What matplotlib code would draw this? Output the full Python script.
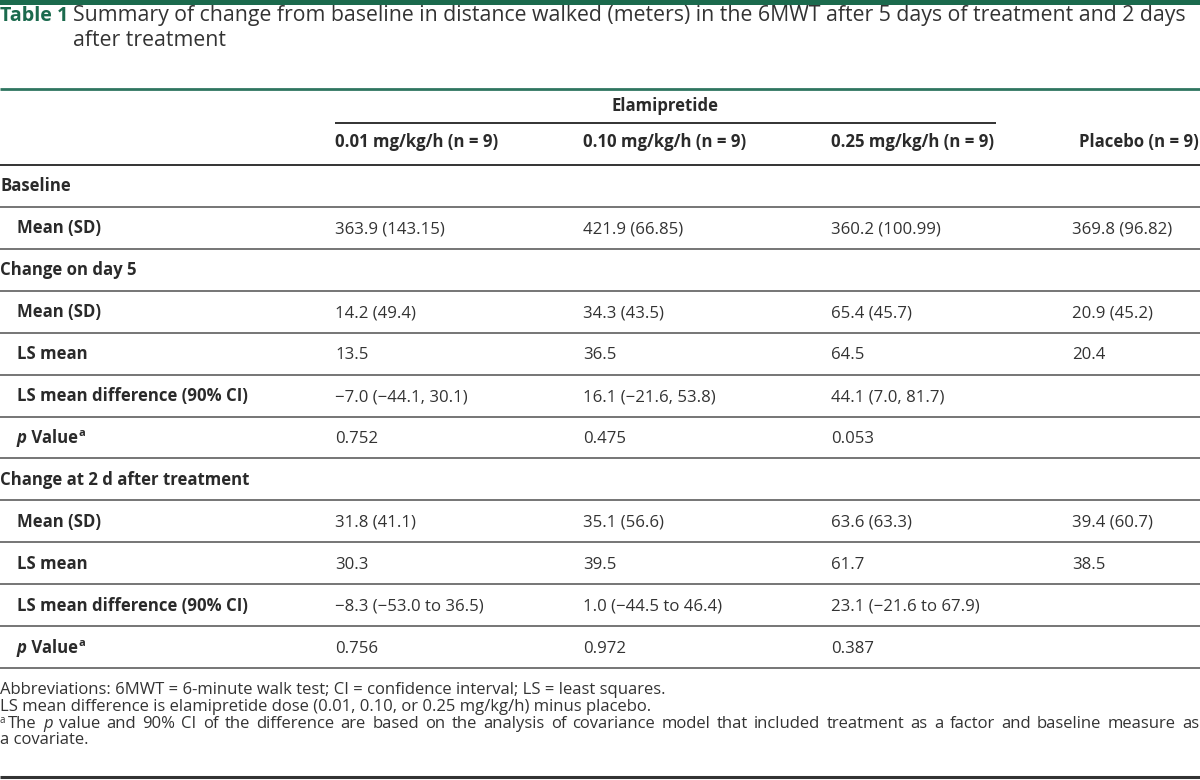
import matplotlib
matplotlib.use('Agg')
import matplotlib.pyplot as plt

plt.rcParams['font.family'] = ['Open Sans', 'DejaVu Sans']

# table content
groups = ["0.01 mg/kg/h (n = 9)", "0.10 mg/kg/h (n = 9)",
          "0.25 mg/kg/h (n = 9)", "Placebo (n = 9)"]
baseline_mean_sd = ["363.9 (143.15)", "421.9 (66.85)", "360.2 (100.99)", "369.8 (96.82)"]
day5_mean_sd = ["14.2 (49.4)", "34.3 (43.5)", "65.4 (45.7)", "20.9 (45.2)"]
day5_ls_mean = ["13.5", "36.5", "64.5", "20.4"]
day5_ls_diff = ["\u22127.0 (\u221244.1, 30.1)", "16.1 (\u221221.6, 53.8)", "44.1 (7.0, 81.7)", ""]
day5_p = ["0.752", "0.475", "0.053", ""]
post_mean_sd = ["31.8 (41.1)", "35.1 (56.6)", "63.6 (63.3)", "39.4 (60.7)"]
post_ls_mean = ["30.3", "39.5", "61.7", "38.5"]
post_ls_diff = ["\u22128.3 (\u221253.0 to 36.5)", "1.0 (\u221244.5 to 46.4)", "23.1 (\u221221.6 to 67.9)", ""]
post_p = ["0.756", "0.972", "0.387", ""]

rows = [
    ("Baseline", True, None),
    ("Mean (SD)", False, baseline_mean_sd),
    ("Change on day 5", True, None),
    ("Mean (SD)", False, day5_mean_sd),
    ("LS mean", False, day5_ls_mean),
    ("LS mean difference (90% CI)", False, day5_ls_diff),
    ("p Value", False, day5_p),
    ("Change at 2 d after treatment", True, None),
    ("Mean (SD)", False, post_mean_sd),
    ("LS mean", False, post_ls_mean),
    ("LS mean difference (90% CI)", False, post_ls_diff),
    ("p Value", False, post_p),
]

title = ("Summary of change from baseline in distance walked (meters) in the 6MWT "
         "after 5 days of treatment and 2 days")
title2 = "after treatment"
foot1 = "Abbreviations: 6MWT = 6-minute walk test; CI = confidence interval; LS = least squares."
foot2 = "LS mean difference is elamipretide dose (0.01, 0.10, or 0.25 mg/kg/h) minus placebo."
foot3 = ("value and 90% CI of the difference are based on the analysis of covariance model "
         "that included treatment as a factor and baseline measure as")
foot4 = "a covariate."

GREEN = '#1b6a4d'
TXT = '#333333'
BOLD = '#2a2a2a'
FS = 12.1
TFS = 15.3

fig = plt.figure(figsize=(12, 7.8), dpi=100)
ax = fig.add_axes([0, 0, 1, 1])
ax.set_xlim(0, 1200)
ax.set_ylim(780, 0)
ax.axis('off')
fig.canvas.draw()
renderer = fig.canvas.get_renderer()


def width_of(t):
    bb = t.get_window_extent(renderer=renderer)
    return bb.width


def pieces(x, y, parts):
    # draw text pieces one after another on a line
    for s, kw in parts:
        t = ax.text(x, y, s, va='baseline', ha='left', **kw)
        x += width_of(t)
    return x


def hline(y, x0, x1, color, lw):
    ax.plot([x0, x1], [y, y], color=color, lw=lw, solid_capstyle='butt')


# top bar and title
ax.add_patch(plt.Rectangle((0, 0), 1200, 5, color=GREEN, lw=0))
ax.text(0, 21, "Table 1", fontsize=14.2, fontweight='bold', color=GREEN, va='baseline')
ax.text(73, 21, title, fontsize=TFS, color=TXT, va='baseline')
ax.text(73, 46, title2, fontsize=TFS, color=TXT, va='baseline')
hline(89, 0, 1200, '#2f7560', 2.0)

# header
col_x = [335, 583, 831, 1079]
ax.text(665, 111, "Elamipretide", fontsize=FS, fontweight='bold', color=BOLD,
        ha='center', va='baseline')
hline(123, 335, 996, '#222222', 1.3)
for x, g in zip(col_x, groups):
    ax.text(x, 147, g, fontsize=FS, fontweight='bold', color=BOLD, va='baseline')
hline(165, 0, 1200, '#333333', 1.4)

# body
row_h = (668 - 165) / len(rows)
for i, (label, section, vals) in enumerate(rows):
    yb = 165 + row_h * (i + 0.5) + 5.5
    lx = 0 if section else 17
    if label == "p Value":
        xe = pieces(lx, yb, [("p", dict(fontsize=FS, fontweight='bold', style='italic', color=BOLD)),
                             (" Value", dict(fontsize=FS, fontweight='bold', color=BOLD))])
        ax.text(xe + 0.5, yb - 6.5, "a", fontsize=8, fontweight='bold', color=BOLD, va='baseline')
    else:
        ax.text(lx, yb, label, fontsize=FS, fontweight='bold', color=BOLD, va='baseline')
    if vals is not None:
        for j, v in enumerate(vals):
            vx = col_x[j] if j < 3 else 1072
            ax.text(vx, yb, v, fontsize=FS, color=TXT, va='baseline')
    hline(165 + row_h * (i + 1), 0, 1200, '#6a6a6a', 1.3)

# footnotes
FFS = 12.0
ax.text(0, 694, foot1, fontsize=FFS, color=TXT, va='baseline')
ax.text(0, 711, foot2, fontsize=FFS, color=TXT, va='baseline')
# justified third line
ax.text(0, 723, "a", fontsize=7, color=TXT, va='baseline')
words = ["The", "p"] + foot3.split()
styles = [{} for _ in words]
styles[1] = dict(style='italic')
objs = []
for w, st in zip(words, styles):
    objs.append(ax.text(0, 728, w, fontsize=FFS, color=TXT, va='baseline', **st))
widths = [width_of(o) for o in objs]
x0, x1 = 8, 1199
gap = (x1 - x0 - sum(widths)) / (len(words) - 1)
x = x0
for o, w in zip(objs, widths):
    o.set_x(x)
    x += w + gap
ax.text(0, 744, foot4, fontsize=FFS, color=TXT, va='baseline')
hline(777, 0, 1200, '#333333', 2.2)

fig.savefig('out.png', dpi=100)
